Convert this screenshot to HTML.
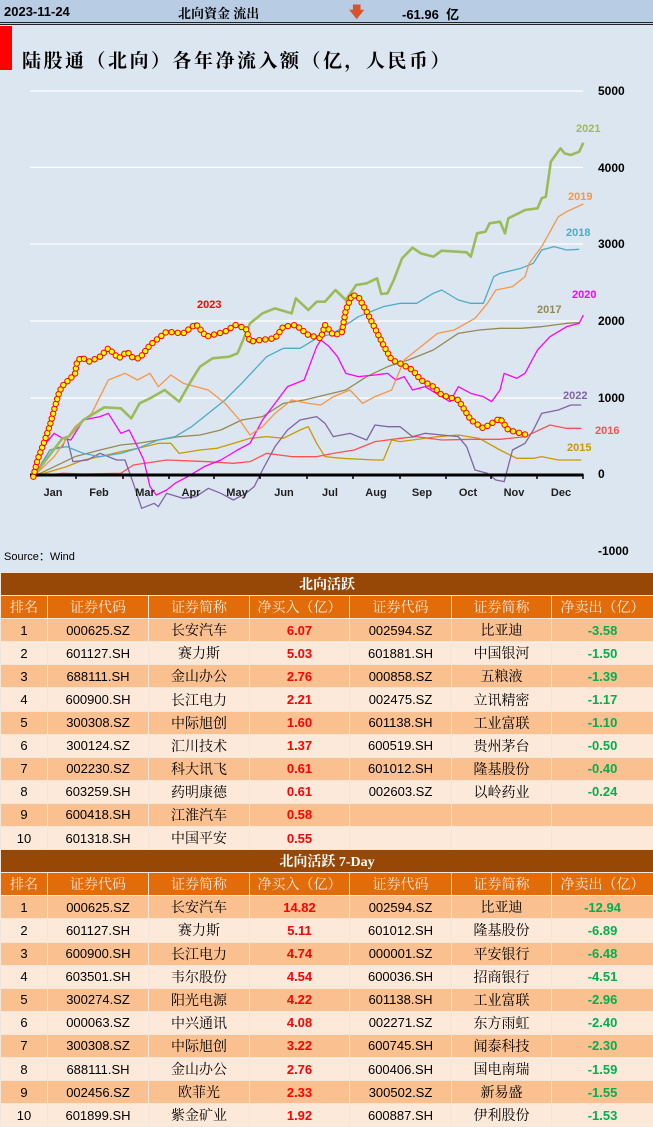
<!DOCTYPE html>
<html><head><meta charset="utf-8">
<style>
*{margin:0;padding:0;box-sizing:border-box}
body{width:653px;height:1127px;overflow:hidden;background:#dce6f1;font-family:"Liberation Sans","Noto Sans CJK SC",sans-serif;position:relative}
#hdr{position:absolute;left:0;top:0;width:653px;height:25px;background:#b8cce4;border-bottom:3px double #222;font-weight:bold;font-size:13px}
#hdr span{position:absolute;top:4px}
.serif{font-family:"Liberation Serif","Noto Serif CJK SC",serif}
#chart{position:absolute;left:0;top:0}
table{position:absolute;left:0;top:572px;width:653px;border-collapse:collapse;table-layout:fixed}
td{height:23.1px;text-align:center;font-size:13px;border:1px solid #f0e6dc;padding:0;white-space:nowrap;overflow:hidden}
tr.sec td{background:#974806;color:#fff;font-weight:bold;font-family:"Liberation Serif","Noto Serif CJK SC",serif;font-size:14px}
tr.ch td{background:#e26b0a;color:#fde9d9;font-family:"Liberation Serif","Noto Serif CJK SC",serif;font-size:14px}
tr.o td{background:#fac090}
tr.e td{background:#fde9d9}
td.n{font-family:"Liberation Serif","Noto Serif CJK SC",serif;font-size:14px}
td.r{color:#ff0000;font-weight:bold}
td.g{color:#00b050;font-weight:bold}
</style></head><body>
<div id="hdr"><span style="left:4px">2023-11-24</span><span class="serif" style="left:178px;top:3px">北向資金 流出</span><span style="left:349px;color:#d9532a;font-size:15px;top:2px">&#129095;</span><span style="left:402px">-61.96&nbsp; 亿</span></div>
<div style="position:absolute;left:0;top:26px;width:12px;height:44px;background:#ff0000"></div>
<div class="serif" style="position:absolute;left:22px;top:46px;font-size:19px;font-weight:bold;letter-spacing:2.5px">陆股通（北向）各年净流入额（亿，人民币）</div>
<svg id="chart" width="653" height="572">
<g fill="none" stroke-linejoin="round">
<g stroke="#fff" stroke-width="1.2">
<line x1="30" y1="91" x2="583" y2="91"/><line x1="30" y1="167.3" x2="583" y2="167.3"/><line x1="30" y1="244" x2="583" y2="244"/><line x1="30" y1="321" x2="583" y2="321"/><line x1="30" y1="398" x2="583" y2="398"/>
</g>
<g transform="translate(0,280) scale(0.41667,0.33333)">
<polyline vector-effect="non-scaling-stroke" stroke="#cc9900" stroke-width="1.3" points="80,590 120,575 160,560 200,540 240,530 290,515 330,505 380,490 410,490 430,520 480,510 520,505 560,490 600,475 640,470 680,475 720,450 740,440 760,490 780,530 820,535 900,540 920,540 940,480 960,485 990,480 1050,470 1100,465 1150,475 1200,510 1240,535 1280,535 1300,530 1340,540 1395,540"/>
<polyline vector-effect="non-scaling-stroke" stroke="#ff5050" stroke-width="1.3" points="80,590 150,580 200,582 290,580 320,555 400,540 500,545 560,550 600,545 640,520 700,530 760,530 800,520 850,510 900,485 960,475 1000,470 1060,480 1130,478 1200,478 1260,470 1320,435 1360,445 1395,445"/>
<polyline vector-effect="non-scaling-stroke" stroke="#8064a2" stroke-width="1.3" points="80,590 120,510 150,500 160,470 175,545 210,540 240,520 280,540 300,540 320,610 340,685 370,670 380,680 400,640 440,655 470,650 500,625 530,640 560,660 590,640 610,620 630,570 660,500 690,450 720,420 760,410 780,430 800,470 840,460 880,480 900,435 930,440 960,440 990,470 1020,460 1060,465 1100,470 1120,500 1140,570 1170,580 1190,600 1210,605 1230,510 1260,490 1280,450 1300,400 1340,390 1370,375 1395,375"/>
<polyline vector-effect="non-scaling-stroke" stroke="#948a54" stroke-width="1.3" points="80,590 130,560 180,530 240,510 290,495 330,490 380,480 430,470 480,465 530,450 580,420 630,410 680,370 730,360 780,345 830,330 880,290 930,260 980,240 1040,210 1100,160 1150,150 1200,145 1250,145 1300,140 1360,130 1390,128"/>
<polyline vector-effect="non-scaling-stroke" stroke="#ff00ff" stroke-width="1.3" points="80,560 110,490 130,460 150,475 170,480 200,420 240,410 260,400 290,460 310,450 330,500 345,540 360,620 375,645 400,630 420,610 450,590 490,560 530,540 570,510 600,490 630,420 660,370 690,320 730,300 760,200 770,180 790,200 810,230 830,280 860,290 900,285 930,280 950,300 970,290 990,330 1020,320 1060,350 1080,365 1100,320 1130,340 1160,350 1180,365 1200,330 1210,280 1240,295 1260,280 1290,210 1320,170 1360,140 1390,130 1400,105"/>
<polyline vector-effect="non-scaling-stroke" stroke="#4bacc6" stroke-width="1.3" points="80,590 120,510 160,500 200,520 240,530 290,520 330,505 380,480 420,470 460,440 500,400 540,360 580,310 640,230 680,205 720,205 760,175 800,160 860,110 880,100 920,80 960,70 1000,70 1040,40 1060,30 1100,60 1130,70 1160,70 1185,-10 1200,-20 1250,-35 1280,-50 1300,-90 1330,-100 1360,-90 1390,-92"/>
<polyline vector-effect="non-scaling-stroke" stroke="#f79646" stroke-width="1.3" points="80,590 130,530 180,440 220,400 260,300 300,280 330,300 360,280 380,320 410,285 440,310 500,330 540,370 575,420 600,465 630,440 660,400 700,360 740,370 770,375 800,350 840,330 870,370 900,350 940,330 970,240 1000,210 1050,160 1090,150 1140,115 1170,70 1190,30 1230,20 1260,-10 1270,-50 1300,-100 1340,-190 1360,-205 1400,-228"/>
<polyline vector-effect="non-scaling-stroke" stroke="#9bbb59" stroke-width="2.6" points="80,590 110,540 150,475 165,470 200,420 250,382 290,385 315,415 335,370 360,355 395,330 430,365 460,300 480,260 510,235 550,230 570,220 600,130 630,100 660,85 700,100 710,55 740,90 760,65 780,65 805,30 830,60 855,15 880,10 905,-5 915,42 930,40 945,0 965,-65 990,-97 1010,-80 1040,-70 1060,-88 1120,-83 1130,-70 1145,-140 1165,-145 1175,-170 1200,-175 1212,-140 1220,-185 1260,-210 1290,-215 1300,-245 1310,-250 1322,-355 1345,-395 1355,-380 1370,-375 1390,-385 1400,-412"/>
<line vector-effect="non-scaling-stroke" x1="72" y1="585" x2="1400" y2="585" stroke="#000" stroke-width="3"/>
<polyline id="red" vector-effect="non-scaling-stroke" stroke="#ff0000" stroke-width="3" points="80,590 90,540 105,490 120,435 132,380 140,345 148,320 180,282 185,245 195,232 215,245 240,230 260,205 285,235 305,215 320,235 335,235 360,195 400,155 440,160 470,132 495,170 540,155 565,135 590,145 600,185 625,180 660,175 680,140 710,135 740,165 770,175 780,135 800,165 820,160 830,90 845,45 860,50 880,95 900,145 920,195 940,240 960,250 990,270 1010,300 1040,320 1060,345 1100,360 1130,420 1160,445 1200,415 1220,450 1265,465"/>
<g id="mk" fill="#ffff00" stroke="#ff0000" stroke-width="1"></g>
</g>
<g stroke="#000" stroke-width="1.5">
<line x1="76" y1="474" x2="76" y2="479"/><line x1="123" y1="474" x2="123" y2="479"/><line x1="169" y1="474" x2="169" y2="479"/><line x1="214" y1="474" x2="214" y2="479"/><line x1="260" y1="474" x2="260" y2="479"/><line x1="307" y1="474" x2="307" y2="479"/><line x1="353" y1="474" x2="353" y2="479"/><line x1="400" y1="474" x2="400" y2="479"/><line x1="446" y1="474" x2="446" y2="479"/><line x1="491" y1="474" x2="491" y2="479"/><line x1="537" y1="474" x2="537" y2="479"/><line x1="583" y1="474" x2="583" y2="479"/>
</g>
</g>
<g font-family="Liberation Sans, sans-serif" font-weight="bold" font-size="12" fill="#000">
<text x="598" y="95">5000</text><text x="598" y="172">4000</text><text x="598" y="248">3000</text><text x="598" y="325">2000</text><text x="598" y="402">1000</text><text x="598" y="478">0</text><text x="598" y="555">-1000</text>
</g>
<g font-family="Liberation Sans, sans-serif" font-weight="bold" font-size="11" fill="#1f1f1f" text-anchor="middle">
<text x="53" y="496">Jan</text><text x="99" y="496">Feb</text><text x="145" y="496">Mar</text><text x="191" y="496">Apr</text><text x="237" y="496">May</text><text x="284" y="496">Jun</text><text x="330" y="496">Jul</text><text x="376" y="496">Aug</text><text x="422" y="496">Sep</text><text x="468" y="496">Oct</text><text x="514" y="496">Nov</text><text x="561" y="496">Dec</text>
</g>
<g font-family="Liberation Sans, sans-serif" font-weight="bold" font-size="11">
<text x="197" y="308" fill="#ff0000">2023</text>
<text x="576" y="132" fill="#9bbb59">2021</text>
<text x="568" y="200" fill="#f79646">2019</text>
<text x="566" y="236" fill="#4bacc6">2018</text>
<text x="572" y="298" fill="#ff00ff">2020</text>
<text x="537" y="313" fill="#948a54">2017</text>
<text x="563" y="399" fill="#8064a2">2022</text>
<text x="595" y="434" fill="#ff5050">2016</text>
<text x="567" y="451" fill="#cc9900">2015</text>
</g>
<text x="4" y="560" font-family="Liberation Sans, Noto Sans CJK SC, sans-serif" font-size="11">Source：Wind</text>
</svg>
<script>
(function(){var p=document.getElementById('red'),g=document.getElementById('mk'),L=p.getTotalLength(),ns='http://www.w3.org/2000/svg';
for(var d=0;d<=L;d+=15){var pt=p.getPointAtLength(d);var e=document.createElementNS(ns,'ellipse');e.setAttribute('cx',pt.x);e.setAttribute('cy',pt.y);e.setAttribute('rx',6.5);e.setAttribute('ry',8.1);e.setAttribute('vector-effect','non-scaling-stroke');g.appendChild(e);}})();
</script>
<table>
<colgroup><col style="width:47px"><col style="width:101px"><col style="width:101px"><col style="width:100px"><col style="width:102px"><col style="width:100px"><col style="width:102px"></colgroup>
<tr class="sec"><td colspan="7">北向活跃</td></tr>
<tr class="ch"><td>排名</td><td>证券代码</td><td>证券简称</td><td>净买入（亿）</td><td>证券代码</td><td>证券简称</td><td>净卖出（亿）</td></tr>
<tr class="o"><td>1</td><td>000625.SZ</td><td class="n">长安汽车</td><td class="r">6.07</td><td>002594.SZ</td><td class="n">比亚迪</td><td class="g">-3.58</td></tr>
<tr class="e"><td>2</td><td>601127.SH</td><td class="n">赛力斯</td><td class="r">5.03</td><td>601881.SH</td><td class="n">中国银河</td><td class="g">-1.50</td></tr>
<tr class="o"><td>3</td><td>688111.SH</td><td class="n">金山办公</td><td class="r">2.76</td><td>000858.SZ</td><td class="n">五粮液</td><td class="g">-1.39</td></tr>
<tr class="e"><td>4</td><td>600900.SH</td><td class="n">长江电力</td><td class="r">2.21</td><td>002475.SZ</td><td class="n">立讯精密</td><td class="g">-1.17</td></tr>
<tr class="o"><td>5</td><td>300308.SZ</td><td class="n">中际旭创</td><td class="r">1.60</td><td>601138.SH</td><td class="n">工业富联</td><td class="g">-1.10</td></tr>
<tr class="e"><td>6</td><td>300124.SZ</td><td class="n">汇川技术</td><td class="r">1.37</td><td>600519.SH</td><td class="n">贵州茅台</td><td class="g">-0.50</td></tr>
<tr class="o"><td>7</td><td>002230.SZ</td><td class="n">科大讯飞</td><td class="r">0.61</td><td>601012.SH</td><td class="n">隆基股份</td><td class="g">-0.40</td></tr>
<tr class="e"><td>8</td><td>603259.SH</td><td class="n">药明康德</td><td class="r">0.61</td><td>002603.SZ</td><td class="n">以岭药业</td><td class="g">-0.24</td></tr>
<tr class="o"><td>9</td><td>600418.SH</td><td class="n">江淮汽车</td><td class="r">0.58</td><td></td><td></td><td></td></tr>
<tr class="e"><td>10</td><td>601318.SH</td><td class="n">中国平安</td><td class="r">0.55</td><td></td><td></td><td></td></tr>
<tr class="sec"><td colspan="7">北向活跃 7-Day</td></tr>
<tr class="ch"><td>排名</td><td>证券代码</td><td>证券简称</td><td>净买入（亿）</td><td>证券代码</td><td>证券简称</td><td>净卖出（亿）</td></tr>
<tr class="o"><td>1</td><td>000625.SZ</td><td class="n">长安汽车</td><td class="r">14.82</td><td>002594.SZ</td><td class="n">比亚迪</td><td class="g">-12.94</td></tr>
<tr class="e"><td>2</td><td>601127.SH</td><td class="n">赛力斯</td><td class="r">5.11</td><td>601012.SH</td><td class="n">隆基股份</td><td class="g">-6.89</td></tr>
<tr class="o"><td>3</td><td>600900.SH</td><td class="n">长江电力</td><td class="r">4.74</td><td>000001.SZ</td><td class="n">平安银行</td><td class="g">-6.48</td></tr>
<tr class="e"><td>4</td><td>603501.SH</td><td class="n">韦尔股份</td><td class="r">4.54</td><td>600036.SH</td><td class="n">招商银行</td><td class="g">-4.51</td></tr>
<tr class="o"><td>5</td><td>300274.SZ</td><td class="n">阳光电源</td><td class="r">4.22</td><td>601138.SH</td><td class="n">工业富联</td><td class="g">-2.96</td></tr>
<tr class="e"><td>6</td><td>000063.SZ</td><td class="n">中兴通讯</td><td class="r">4.08</td><td>002271.SZ</td><td class="n">东方雨虹</td><td class="g">-2.40</td></tr>
<tr class="o"><td>7</td><td>300308.SZ</td><td class="n">中际旭创</td><td class="r">3.22</td><td>600745.SH</td><td class="n">闻泰科技</td><td class="g">-2.30</td></tr>
<tr class="e"><td>8</td><td>688111.SH</td><td class="n">金山办公</td><td class="r">2.76</td><td>600406.SH</td><td class="n">国电南瑞</td><td class="g">-1.59</td></tr>
<tr class="o"><td>9</td><td>002456.SZ</td><td class="n">欧菲光</td><td class="r">2.33</td><td>300502.SZ</td><td class="n">新易盛</td><td class="g">-1.55</td></tr>
<tr class="e"><td>10</td><td>601899.SH</td><td class="n">紫金矿业</td><td class="r">1.92</td><td>600887.SH</td><td class="n">伊利股份</td><td class="g">-1.53</td></tr>
</table>
</body></html>
